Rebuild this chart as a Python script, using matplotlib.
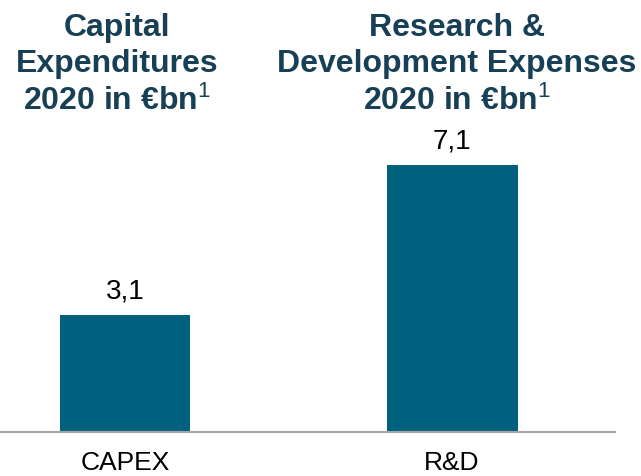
import matplotlib
matplotlib.use("Agg")
import matplotlib.pyplot as plt
import matplotlib.transforms as mtransforms

plt.rcParams['font.family'] = ['Liberation Sans', 'DejaVu Sans']
plt.rcParams['mathtext.fontset'] = 'custom'
plt.rcParams['mathtext.rm'] = 'Liberation Sans'
plt.rcParams['mathtext.default'] = 'regular'

# Data
categories = ['CAPEX', 'R&D']
values = [3.1, 7.1]
headers = ['Capital\nExpenditures\n2020 in €bn$^{\\mathrm{1}}$',
           'Research &\nDevelopment Expenses\n2020 in €bn$^{\\mathrm{1}}$']

bar_color = '#00617f'
title_color = '#173f55'

fig = plt.figure(figsize=(6.41, 4.76), dpi=100)
ax = fig.add_axes([0, 44 / 476, 615 / 641, 432 / 476])

x = list(range(len(categories)))
bars = ax.bar(x, values, width=0.4, color=bar_color)

ax.set_xlim(-0.382, 1.498)
ax.set_ylim(0, 11.47)

for xi, v in zip(x, values):
    ax.text(xi, v + 0.28, f"{v:.1f}".replace('.', ','), ha='center', va='bottom',
            fontsize=20, color='black')

# headers sit slightly off the bar centres in the original
header_shift = [-8, 5]
trans = mtransforms.blended_transform_factory(ax.transData, ax.transAxes)
for xi, h, dx in zip(x, headers, header_shift):
    t = trans + mtransforms.ScaledTranslation(dx / 100, 0, fig.dpi_scale_trans)
    ax.text(xi, (432 - 65) / 432, h, transform=t, ha='center', va='center',
            fontsize=23, fontweight='bold', color=title_color, linespacing=1.28)

ax.set_xticks(x)
ax.set_xticklabels(categories, fontsize=19)
ax.tick_params(axis='x', length=0, pad=14)
ax.set_yticks([])
for s in ['top', 'right', 'left']:
    ax.spines[s].set_visible(False)
ax.spines['bottom'].set_color('#a6a6a6')
ax.spines['bottom'].set_linewidth(1.5)

fig.savefig('out.png', dpi=100)
